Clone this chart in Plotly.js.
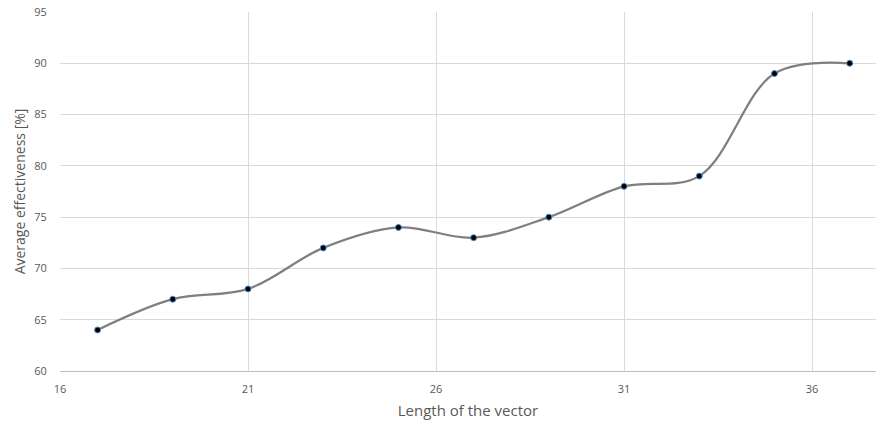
<!DOCTYPE html>
<html>
<head>
<meta charset="utf-8">
<script src="https://cdn.plot.ly/plotly-3.0.1.min.js"></script>
<style>
html,body{margin:0;padding:0;background:#fff;}
#chart{width:877px;height:425px;}
</style>
</head>
<body>
<div id="chart"></div>
<script>
var vectorLength = [17, 19, 21, 23, 25, 27, 29, 31, 33, 35, 37];
var effectiveness = [64, 67, 68, 72, 74, 73, 75, 78, 79, 89, 90];
var xTicks = [16, 21, 26, 31, 36];
var yTicks = [60, 65, 70, 75, 80, 85, 90, 95];

var trace = {
  x: vectorLength,
  y: effectiveness,
  type: 'scatter',
  mode: 'lines+markers',
  line: {color: '#7f7f7f', width: 2.25, shape: 'spline', smoothing: 1},
  marker: {color: '#000000', size: 6, line: {color: '#4a8fd0', width: 1}},
  hoverinfo: 'x+y'
};

var fontFam = '"Open Sans", "Noto Sans", sans-serif';
var layout = {
  width: 877, height: 425,
  margin: {l: 60, r: 1, t: 12, b: 54},
  paper_bgcolor: '#ffffff', plot_bgcolor: '#ffffff',
  showlegend: false,
  font: {family: fontFam, color: '#595959', size: 11},
  xaxis: {
    range: [16, 37.7],
    tickvals: xTicks, ticktext: xTicks.map(String),
    showgrid: true, gridcolor: '#d9d9d9', gridwidth: 1,
    zeroline: false,
    showline: true, linecolor: '#bfbfbf', linewidth: 1,
    ticks: 'outside', ticklen: 8, tickcolor: 'rgba(0,0,0,0)',
    tickfont: {size: 11, color: '#595959'},
    title: {text: 'Length of the vector', font: {size: 15, color: '#595959'}, standoff: 10}
  },
  yaxis: {
    range: [60, 95],
    tickvals: yTicks, ticktext: yTicks.map(String),
    showgrid: true, gridcolor: '#d9d9d9', gridwidth: 1,
    zeroline: false,
    showline: false,
    ticks: 'outside', ticklen: 10, tickcolor: 'rgba(0,0,0,0)',
    tickfont: {size: 11, color: '#595959'},
    title: {text: 'Average effectiveness [%]', font: {size: 14, color: '#595959'}, standoff: 5}
  }
};

Plotly.newPlot('chart', [trace], layout, {displayModeBar: false, staticPlot: true});
</script>
</body>
</html>
